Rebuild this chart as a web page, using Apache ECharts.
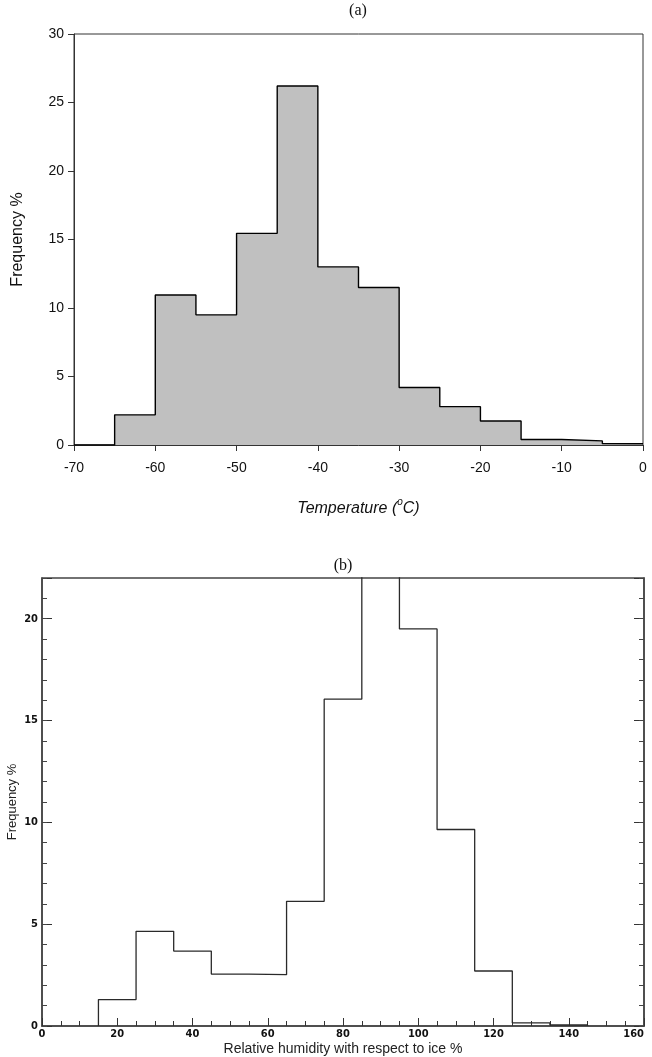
<!DOCTYPE html>
<html>
<head>
<meta charset="utf-8">
<script src="https://cdn.jsdelivr.net/npm/echarts@6/dist/echarts.min.js"></script>
<style>
  html, body { margin: 0; padding: 0; background: #fff; }
  #chart { width: 652px; height: 1057px; }
</style>
</head>
<body>
<div id="chart"></div>
<script>
// (a) temperature histogram: 5 °C bins, lower edge of each bin
const tempBinStart = [-70, -65, -60, -55, -50, -45, -40, -35, -30, -25, -20, -15, -10, -5];
const tempFreq     = [0, 2.2, 10.95, 9.5, 15.45, 26.2, 13.0, 11.5, 4.2, 2.8, 1.75, 0.4, 0.3, 0.1];
const tempBinWidth = 5;

// (b) relative humidity w.r.t. ice histogram: 10 % bins, lower edge of each bin
const rhBinStart = [15, 25, 35, 45, 55, 65, 75, 85, 95, 105, 115, 125, 135];
const rhFreq     = [1.3, 4.65, 3.68, 2.55, 2.52, 6.12, 16.05, 25.0, 19.5, 9.65, 2.7, 0.15, 0.05];
const rhBinWidth = 10;

// step outline points for a histogram (step: 'end' draws horizontal first)
function stepPoints(starts, vals, width, closeToZero) {
  const pts = [];
  if (closeToZero) pts.push([starts[0], 0]);
  starts.forEach((s, i) => pts.push([s, vals[i]]));
  const last = starts[starts.length - 1] + width;
  pts.push([last, vals[vals.length - 1]]);
  if (closeToZero) pts.push([last, 0]);
  return pts;
}

const arial = "'Liberation Sans', Arial, sans-serif";
const narrow = "'Liberation Sans Narrow', 'DejaVu Sans Condensed', 'Liberation Sans', sans-serif";
const serif = "'Liberation Serif', 'Times New Roman', serif";

const chart = echarts.init(document.getElementById('chart'), null, { renderer: 'canvas' });

const hidden = { show: false };

const option = {
  animation: false,
  backgroundColor: '#ffffff',
  title: [
    { text: '(a)', left: 358, top: 3, textAlign: 'center', padding: 0,
      textStyle: { fontFamily: serif, fontSize: 16, fontWeight: 'normal', color: '#111' } },
    { text: '(b)', left: 343, top: 558, textAlign: 'center', padding: 0,
      textStyle: { fontFamily: serif, fontSize: 16, fontWeight: 'normal', color: '#111' } }
  ],
  grid: [
    { left: 74, right: 9, top: 34, height: 411, containLabel: false, outerBoundsMode: 'none',
      show: true, borderColor: '#333', borderWidth: 1, backgroundColor: 'transparent' },
    { left: 42, right: 8, top: 578, height: 448, containLabel: false, outerBoundsMode: 'none',
      show: true, borderColor: '#444', borderWidth: 1.5, backgroundColor: 'transparent' }
  ],
  xAxis: [
    {
      gridIndex: 0, type: 'value', min: -70, max: 0, interval: 10,
      axisLine: { show: true, onZero: false, lineStyle: { color: '#333', width: 1 } },
      axisTick: { show: true, inside: false, length: 6, lineStyle: { color: '#333' } },
      axisLabel: { margin: 16, fontFamily: arial, fontSize: 14, color: '#111' },
      splitLine: hidden,
      name: '{t|Temperature (}{s|o}{t|C)}',
      nameLocation: 'middle', nameGap: 52, nameMoveOverlap: false,
      nameTextStyle: {
        rich: {
          t: { fontFamily: arial, fontSize: 16, fontStyle: 'italic', color: '#111', lineHeight: 20, verticalAlign: 'bottom' },
          s: { fontFamily: arial, fontSize: 10, fontStyle: 'italic', color: '#111', lineHeight: 20, verticalAlign: 'top' }
        }
      }
    },
    {
      gridIndex: 1, type: 'value', min: 0, max: 160, interval: 20,
      axisLine: { show: true, onZero: false, lineStyle: { color: '#444', width: 1.5 } },
      axisTick: { show: true, inside: true, length: 8, lineStyle: { color: '#333' } },
      minorTick: { show: true, splitNumber: 4, length: 5, lineStyle: { color: '#333' } },
      axisLabel: { margin: 3, fontFamily: narrow, fontWeight: 'bold', fontSize: 11, color: '#111',
                   alignMaxLabel: 'right' },
      splitLine: hidden, minorSplitLine: hidden,
      name: 'Relative humidity with respect to ice %',
      nameLocation: 'middle', nameGap: 16, nameMoveOverlap: false,
      nameTextStyle: { fontFamily: arial, fontSize: 14, color: '#222' }
    }
  ],
  yAxis: [
    {
      gridIndex: 0, type: 'value', min: 0, max: 30, interval: 5,
      axisLine: { show: true, onZero: false, lineStyle: { color: '#333', width: 1 } },
      axisTick: { show: true, inside: false, length: 6, lineStyle: { color: '#333' } },
      axisLabel: { margin: 10, fontFamily: arial, fontSize: 14, color: '#111' },
      splitLine: hidden,
      name: 'Frequency %', nameLocation: 'middle', nameGap: 48, nameRotate: 90, nameMoveOverlap: false,
      nameTextStyle: { fontFamily: arial, fontSize: 16, color: '#111' }
    },
    // bottom panel, left side: major ticks + labels
    {
      gridIndex: 1, type: 'value', min: 0, max: 22, interval: 5, position: 'left',
      axisLine: { show: true, onZero: false, lineStyle: { color: '#444', width: 1.5 } },
      axisTick: { show: true, inside: true, length: 10, lineStyle: { color: '#333' } },
      axisLabel: { margin: 4, fontFamily: narrow, fontWeight: 'bold', fontSize: 11, color: '#111',
                   formatter: v => (v % 5 === 0 ? String(v) : '') },
      splitLine: hidden,
      name: 'Frequency %', nameLocation: 'middle', nameGap: 23, nameRotate: 90, nameMoveOverlap: false,
      nameTextStyle: { fontFamily: arial, fontSize: 13, color: '#222' }
    },
    // bottom panel, left side: unit ticks
    {
      gridIndex: 1, type: 'value', min: 0, max: 22, interval: 1, position: 'left',
      axisLine: hidden,
      axisTick: { show: true, inside: true, length: 5, lineStyle: { color: '#444' } },
      axisLabel: hidden, splitLine: hidden
    },
    // bottom panel, right side: major ticks
    {
      gridIndex: 1, type: 'value', min: 0, max: 22, interval: 5, position: 'right',
      axisLine: { show: true, onZero: false, lineStyle: { color: '#444', width: 1.5 } },
      axisTick: { show: true, inside: true, length: 10, lineStyle: { color: '#333' } },
      axisLabel: hidden, splitLine: hidden
    },
    // bottom panel, right side: unit ticks
    {
      gridIndex: 1, type: 'value', min: 0, max: 22, interval: 1, position: 'right',
      axisLine: hidden,
      axisTick: { show: true, inside: true, length: 5, lineStyle: { color: '#444' } },
      axisLabel: hidden, splitLine: hidden
    }
  ],
  series: [
    {
      type: 'line', xAxisIndex: 0, yAxisIndex: 0, step: 'end', symbol: 'none',
      data: stepPoints(tempBinStart, tempFreq, tempBinWidth, false),
      lineStyle: { color: '#000', width: 1.4 },
      areaStyle: { color: '#c0c0c0', opacity: 1 },
      z: 1
    },
    {
      type: 'line', xAxisIndex: 1, yAxisIndex: 1, step: 'end', symbol: 'none',
      data: stepPoints(rhBinStart, rhFreq, rhBinWidth, true),
      lineStyle: { color: '#2a2a2a', width: 1.3 },
      clip: true,
      z: 1
    }
  ]
};

chart.setOption(option);
</script>
</body>
</html>
